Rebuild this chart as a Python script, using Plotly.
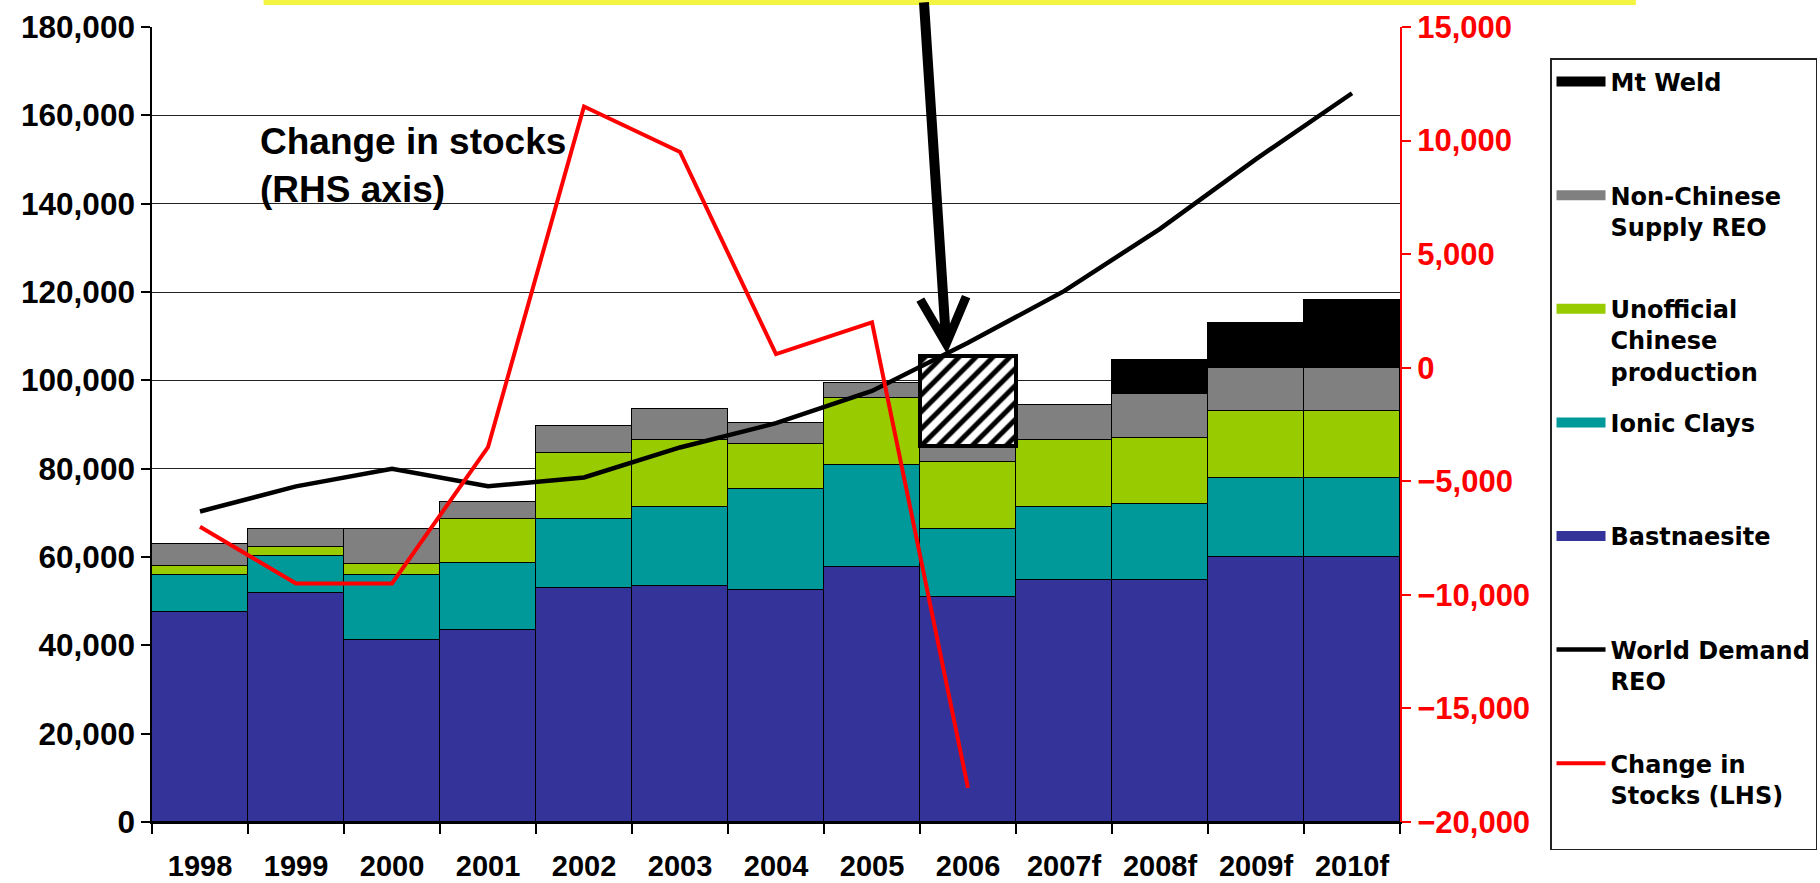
import plotly.graph_objects as go

years = ['1998', '1999', '2000', '2001', '2002', '2003', '2004', '2005', '2006',
         '2007f', '2008f', '2009f', '2010f']
bastnaesite = [47500, 51800, 41100, 43400, 52900, 53500, 52500, 57800, 51000, 54900, 54900, 60000, 60000]
ionic_clays = [8400, 8400, 14800, 15200, 15600, 17900, 22900, 23100, 15400, 16500, 17200, 17900, 17900]
unofficial_chinese = [2000, 2100, 2600, 9900, 15100, 15100, 10200, 15100, 15100, 15100, 14800, 15100, 15100]
non_chinese_supply = [5100, 4100, 7900, 4000, 6000, 6900, 4800, 3400, 3600, 7900, 10000, 9900, 9900]
mt_weld = [None, None, None, None, None, None, None, None, None, None, 7600, 10000, 15200]
supply_gap_2006 = [None, None, None, None, None, None, None, None, 20500, None, None, None, None]
world_demand = [70300, 76000, 80000, 76000, 78000, 84800, 90300, 97600, 108500, 120200, 134300, 150100, 165000]
stock_years = ['1998', '1999', '2000', '2001', '2002', '2003', '2004', '2005', '2006']
change_in_stocks = [-7000, -9500, -9500, -3500, 11500, 9500, 600, 2000, -18500]

left_ticks = [0, 20000, 40000, 60000, 80000, 100000, 120000, 140000, 160000, 180000]
right_ticks = [-20000, -15000, -10000, -5000, 0, 5000, 10000, 15000]

ARIAL = 'Liberation Sans, Arial, sans-serif'
LEG_FONT = 'DejaVu Sans, Verdana, sans-serif'

fig = go.Figure()

fig.add_trace(go.Scatter(
    x=stock_years, y=change_in_stocks, yaxis='y2', mode='lines',
    line=dict(color='#FF0000', width=4),
    name='Change in<br>Stocks (LHS)<br>&nbsp;', legendgroup='g7', legendrank=7,
    hoverinfo='skip'))

fig.add_trace(go.Scatter(
    x=years, y=world_demand, mode='lines',
    line=dict(color='black', width=4.5),
    name='World Demand<br>REO<br>&nbsp;', legendgroup='g6', legendrank=6,
    hoverinfo='skip'))

bar_specs = [
    (bastnaesite, '#333399', 'Bastnaesite<br>&nbsp;<br>&nbsp;', 5),
    (ionic_clays, '#009999', 'Ionic Clays<br>&nbsp;<br>&nbsp;', 4),
    (unofficial_chinese, '#99CC00', 'Unofficial<br>Chinese<br>production', 3),
    (non_chinese_supply, '#808080', 'Non-Chinese<br>Supply REO<br>&nbsp;', 2),
    (mt_weld, '#000000', 'Mt Weld<br>&nbsp;<br>&nbsp;', 1),
]
for vals, col, nm, rank in bar_specs:
    fig.add_trace(go.Bar(
        x=years, y=vals, name=nm, showlegend=False,
        marker=dict(color=col, line=dict(color='black', width=1.5)),
        legendgroup='g%d' % rank, hoverinfo='skip'))
    # legend key drawn as a wide swatch, like the original chart
    fig.add_trace(go.Scatter(
        x=[None], y=[None], mode='lines', name=nm,
        line=dict(color=col, width=10),
        legendgroup='g%d' % rank, legendrank=rank, hoverinfo='skip'))

fig.add_trace(go.Bar(
    x=years, y=supply_gap_2006, showlegend=False, hoverinfo='skip',
    marker=dict(color='white', line=dict(color='black', width=4),
                pattern=dict(shape='/', fgcolor='black', bgcolor='white',
                             size=12, solidity=0.42, fillmode='replace'))))

fig.update_layout(
    width=1820, height=883, autosize=False,
    margin=dict(l=152, r=420, t=27, b=61, pad=0, autoexpand=False),
    paper_bgcolor='white', plot_bgcolor='white',
    barmode='stack', bargap=0,
    showlegend=True,
    legend=dict(x=1.1202, xanchor='left', y=0.961, yanchor='top',
                bgcolor='white', bordercolor='#222222', borderwidth=1.5,
                font=dict(family=LEG_FONT, size=24, color='black', weight='bold'),
                traceorder='grouped', tracegroupgap=17, valign='top', itemwidth=49),
    xaxis=dict(type='category', categoryorder='array', categoryarray=years,
               showline=True, linecolor='black', linewidth=2,
               ticks='outside', tickson='boundaries', ticklen=10, tickwidth=1.5, tickcolor='black',
               tickfont=dict(family=ARIAL, size=29, color='black', weight='bold'),
               ticklabelstandoff=17, showgrid=False, zeroline=False),
    yaxis=dict(range=[0, 180000], tickvals=left_ticks, tickformat=',d',
               showline=True, linecolor='black', linewidth=1.5,
               ticks='outside', ticklen=9, tickwidth=1.5, tickcolor='black',
               tickfont=dict(family=ARIAL, size=31.5, color='black', weight='bold'),
               ticklabelstandoff=0,
               showgrid=True, gridcolor='#222222', gridwidth=1.3, zeroline=False),
    yaxis2=dict(range=[-20000, 15000], tickvals=right_ticks, tickformat=',d',
                overlaying='y', side='right', anchor='x',
                showline=True, linecolor='#FF0000', linewidth=2,
                ticks='outside', ticklen=9, tickwidth=1.5, tickcolor='#FF0000',
                tickfont=dict(family=ARIAL, size=31, color='#FF0000', weight='bold'),
                ticklabelstandoff=0,
                showgrid=False, zeroline=False),
)

fig.add_annotation(
    xref='paper', yref='paper', x=0.0847, y=0.884, xanchor='left', yanchor='top',
    text='Change in stocks<br>(RHS axis)', showarrow=False, align='left',
    font=dict(family=ARIAL, size=37, color='black', weight='bold'))

fig.add_annotation(
    xref='x', yref='y', x=7.78, y=106000, text='', showarrow=True,
    arrowhead=5, arrowsize=0.9, arrowwidth=10, arrowcolor='black',
    ax=-23, ay=-353, standoff=0)

fig.add_shape(type='rect', xref='paper', yref='paper',
              x0=0.0894, x1=1.189, y0=1.0277, y1=1.04,
              fillcolor='#F4F442', line=dict(width=0), layer='above')

fig.write_html('out.html',
               config={'displayModeBar': False},
               post_script="document.body.style.margin='0';"
                           "document.body.style.overflow='hidden';")
